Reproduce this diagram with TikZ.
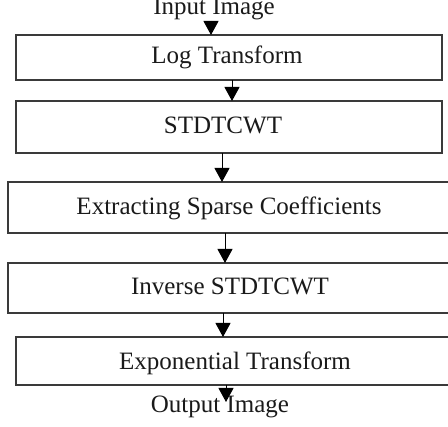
\documentclass[tikz,border=0pt]{standalone}
\usepackage{fontspec}
\setmainfont{Liberation Serif}
\usetikzlibrary{arrows.meta}
\definecolor{linegray}{HTML}{3A3A3A}
\definecolor{textgray}{HTML}{1A1A1A}
\tikzset{
  stagebox/.style={draw=linegray, line width=1.3pt, inner sep=0pt, outer sep=0pt},
  stagetext/.style={text=textgray, inner sep=0pt, font=\fontsize{25}{29}\selectfont},
  flowarrow/.style={draw=black, line width=1pt, -{Triangle[width=15pt,length=14pt]}}
}
\begin{document}
\begin{tikzpicture}[x=1pt,y=-1pt]
\useasboundingbox (0,0) rectangle (448,427);
% boxes
\node[stagebox, minimum width=426pt, minimum height=45pt] (b1) at (229,57.5) {};
\node[stagebox, minimum width=426pt, minimum height=52pt] (b2) at (229,127) {};
\node[stagebox, minimum width=452pt, minimum height=51pt] (b3) at (234,207.5) {};
\node[stagebox, minimum width=452pt, minimum height=50pt] (b4) at (234,288) {};
\node[stagebox, minimum width=444pt, minimum height=48pt] (b5) at (238,361) {};
% texts
\node[stagetext, anchor=base] (tin) at (214,15) {Input Image};
\node[stagetext, anchor=base] (t1) at (227,64) {Log Transform};
\node[stagetext, anchor=base] (t2) at (223,134) {STDTCWT};
\node[stagetext, anchor=base] (t3) at (229,215) {Extracting Sparse Coefficients};
\node[stagetext, anchor=base] (t4) at (230,295) {Inverse STDTCWT};
\node[stagetext, anchor=base] (t5) at (235,370) {Exponential Transform};
\node[stagetext, anchor=base] (tout) at (220,413) {Output Image};
% arrow columns
\coordinate (x1) at (211,0);
\coordinate (x2) at (232,0);
\coordinate (x3) at (222,0);
\coordinate (x4) at (225,0);
\coordinate (x5) at (223,0);
\coordinate (x6) at (226,0);
\coordinate (a1s) at (211,21);
\coordinate (a6e) at (226,402);
% connectors
\draw[flowarrow] (a1s) -- (b1.north -| x1);
\draw[flowarrow] (b1.south -| x2) -- (b2.north -| x2);
\draw[flowarrow] (b2.south -| x3) -- (b3.north -| x3);
\draw[flowarrow] (b3.south -| x4) -- (b4.north -| x4);
\draw[flowarrow] (b4.south -| x5) -- (b5.north -| x5);
\draw[flowarrow] (b5.south -| x6) -- (a6e);
\end{tikzpicture}
\end{document}
